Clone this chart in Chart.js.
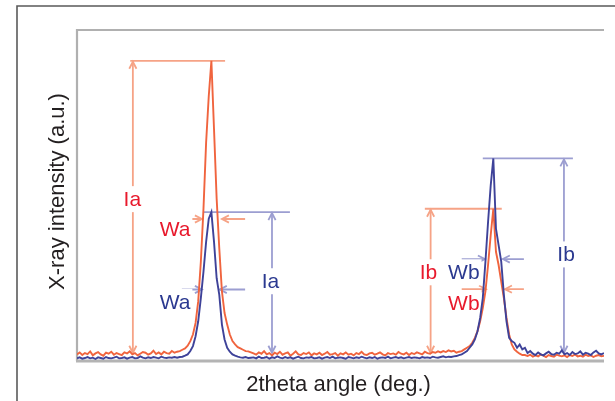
<!DOCTYPE html>
<html>
<head>
<meta charset="utf-8">
<script src="https://cdn.jsdelivr.net/npm/chart.js@4.4.1/dist/chart.umd.min.js"></script>
<style>
html,body{margin:0;padding:0;background:#fff;overflow:hidden}
#wrap{position:relative;width:615px;height:401px}
</style>
</head>
<body>
<div id="wrap"><canvas id="c" width="615" height="401"></canvas></div>
<script>
// ---- data (2theta sampled every thetaStep, arbitrary units) ----
const thetaStart = 0;
const thetaStep = 0.5;

const redIntensity = [
  2.0,2.6,1.8,2.4,2.1,2.9,1.7,2.3,2.7,2.0,1.6,2.5,2.2,2.8,1.9,2.4,2.1,1.8,2.6,2.3,2.9,2.0,2.4,1.7,2.2,2.7,2.5,1.9,2.3,3.1,2.1,2.6,2.0,2.8,2.4,2.2,3.0,2.5,
  2.8,3.0,3.4,3.8,4.6,6.0,8.0,11.5,18,30,46,66,80,90.7,70,49,34,21,14.5,11,8,6,5,4.2,3.8,3.4,3.0,2.9,2.6,
  2.3,1.9,2.6,2.2,3.0,2.0,2.4,1.7,2.5,2.1,2.8,1.9,2.3,2.6,1.6,2.2,2.9,2.0,1.8,2.4,2.1,2.6,1.7,2.3,2.0,2.5,1.8,2.2,2.7,1.9,
  2.1,2.4,1.6,2.3,2.0,2.6,1.9,2.2,1.7,2.4,2.1,2.8,2.0,1.8,2.3,2.5,1.9,2.2,2.6,2.0,1.7,2.4,2.1,2.3,1.9,2.7,2.2,2.0,2.5,1.8,
  2.4,2.1,2.6,2.3,2.0,2.8,2.4,2.2,2.7,2.5,2.9,2.6,3.0,2.7,3.2,2.9,3.1,
  2.5,2.8,3.0,3.5,4.0,4.5,5.5,7,9,12,16,21,29,38,46,33,29,24,19,13,8,5,3.5,2.8,2.2,1.8,1.8,
  1.5,1.9,1.3,1.7,1.4,2.0,1.6,1.2,1.8,1.5,1.3,1.9,1.6,1.4,1.7,1.2,1.8,1.5,2.0,1.4,1.6,1.3,1.9,1.5,1.7,1.2,1.6,1.8,1.4,1.6
];

const blueIntensity = [
  0.8,1.1,0.7,0.9,1.2,0.8,1.0,0.6,1.1,0.9,0.7,1.2,0.9,0.8,1.0,1.3,0.8,0.9,1.1,0.7,1.0,1.2,0.8,0.9,1.4,1.0,0.8,1.1,0.9,1.2,1.0,0.8,1.3,1.0,0.9,1.1,1.0,1.2,
  1.0,1.2,1.3,1.6,2.0,3.0,4.5,7.5,12,19,27,36,43,45,36,25,20,11,6.5,4,2.8,2.0,1.6,1.3,1.1,1.0,1.2,0.9,1.0,
  1.1,0.8,1.3,0.9,1.0,1.2,0.7,1.1,0.9,1.4,1.0,0.8,1.2,0.9,1.1,0.7,1.0,1.3,0.9,0.8,1.1,1.0,1.2,0.8,0.9,1.1,0.7,1.0,1.2,0.9,
  1.3,0.8,1.0,1.1,0.9,0.7,1.2,1.0,0.8,1.1,0.9,1.3,1.0,0.8,1.1,0.9,1.2,0.7,1.0,1.1,0.9,1.3,0.8,1.0,1.2,0.9,1.1,0.8,1.0,1.2,
  0.9,1.1,1.0,0.8,1.2,1.0,1.1,0.9,1.3,1.1,1.0,1.2,1.4,1.1,1.3,1.2,1.4,
  1.5,1.8,2.0,2.5,3.0,4.0,5.0,6.5,9,13,19,30,42,53,61.2,40,35,30,20,12,7,6,5.5,4.0,5.0,3.5,4.0,
  2.4,3.0,2.2,1.8,2.6,2.0,1.7,2.3,2.8,2.1,1.9,2.5,2.2,3.2,2.0,2.4,1.8,2.7,2.1,2.3,2.9,1.9,2.5,2.2,1.8,2.6,3.1,2.3,2.0,2.4
];

// ---- annotations (data units) ----
// peak height markers "I": series, arrow x, horizontal line extent, window to find the peak
const heightSeries   = ['red', 'blue', 'red', 'blue'];
const heightArrowX   = [10.6, 37.0, 67.1, 92.4];
const heightLineFrom = [10.1, 23.9, 66.0, 77.0];
const heightLineTo   = [28.1, 40.4, 80.6, 94.1];
const heightWinFrom  = [19, 19, 72, 72];
const heightWinTo    = [33, 33, 85, 85];
const heightBase     = 2.5;

// peak width markers "W"
const widthSeries = ['red', 'blue', 'blue', 'red'];
const widthLevel  = [42.9, 21.6, 30.8, 21.7];
const widthOuterL = [18.9, 19.9, 73.0, 73.0];
const widthInnerL = [23.7, 23.7, 77.4, 77.6];
const widthInnerR = [27.5, 27.1, 80.8, 81.2];
const widthOuterR = [31.9, 31.9, 84.8, 84.8];

// labels
const labelText   = ['Ia', 'Wa', 'Wa', 'Ia', 'Ib', 'Wb', 'Wb', 'Ib'];
const labelSeries = ['red', 'red', 'blue', 'blue', 'red', 'blue', 'red', 'blue'];
const labelX      = [10.5, 18.6, 18.6, 36.7, 66.7, 73.4, 73.4, 92.8];
const labelY      = [48.9, 39.7, 17.9, 24.1, 26.8, 26.8, 17.4, 32.2];

const xTitle = '2theta angle (deg.)';
const yTitle = 'X-ray intensity (a.u.)';

// ---- styles ----
const LINE = { red: '#f0643e', blue: '#3e4299' };
const MARK = { red: '#f6a386', blue: '#9c9ed1' };
const TEXT = { red: '#e8192c', blue: '#2b3990' };
const FONT = "'Liberation Sans', Arial, Helvetica, sans-serif";

const thetas = redIntensity.map((_, i) => thetaStart + i * thetaStep);
const seriesData = { red: redIntensity, blue: blueIntensity };

function peakMax(series, from, to) {
  let m = -Infinity;
  thetas.forEach((t, i) => { if (t >= from && t <= to) m = Math.max(m, seriesData[series][i]); });
  return m;
}

function arrowHead(ctx, tx, ty, dx, dy) {
  const len = 7, half = 3.6;
  ctx.beginPath();
  ctx.moveTo(tx - dx * len - dy * half, ty - dy * len + dx * half);
  ctx.lineTo(tx, ty);
  ctx.lineTo(tx - dx * len + dy * half, ty - dy * len - dx * half);
  ctx.stroke();
}

const decor = {
  id: 'decor',
  beforeDraw(chart) {
    const { ctx, chartArea: a } = chart;
    ctx.save();
    // outer figure frame
    ctx.strokeStyle = '#5a5a5a';
    ctx.lineWidth = 1.6;
    ctx.beginPath();
    ctx.moveTo(17, 401);
    ctx.lineTo(17, 6);
    ctx.lineTo(615, 6);
    ctx.stroke();
    // plot frame
    ctx.strokeStyle = '#b0b0b0';
    ctx.lineWidth = 2.2;
    ctx.beginPath();
    ctx.moveTo(a.right, a.top);
    ctx.lineTo(a.left, a.top);
    ctx.lineTo(a.left, a.bottom);
    ctx.stroke();
    ctx.lineWidth = 3;
    ctx.strokeStyle = '#b4b4b4';
    ctx.beginPath();
    ctx.moveTo(a.left - 1, a.bottom);
    ctx.lineTo(a.right, a.bottom);
    ctx.stroke();
    // axis titles
    ctx.fillStyle = '#231f20';
    ctx.font = '22px ' + FONT;
    ctx.textAlign = 'center';
    ctx.textBaseline = 'middle';
    ctx.fillText(xTitle, (a.left + a.right) / 2 - 2, a.bottom + 24);
    ctx.translate(58, (a.top + a.bottom) / 2 - 4);
    ctx.rotate(-Math.PI / 2);
    ctx.fillText(yTitle, 0, 0);
    ctx.restore();
  },
  beforeDatasetsDraw(chart) {
    const { ctx, scales: { x, y } } = chart;
    ctx.save();
    ctx.lineWidth = 1.8;
    ctx.lineCap = 'butt';
    // height markers
    heightSeries.forEach((s, i) => {
      const lvl = peakMax(s, heightWinFrom[i], heightWinTo[i]);
      const py = y.getPixelForValue(lvl);
      const pb = y.getPixelForValue(heightBase);
      const ax = x.getPixelForValue(heightArrowX[i]);
      ctx.strokeStyle = MARK[s];
      ctx.beginPath();
      ctx.moveTo(x.getPixelForValue(heightLineFrom[i]), py);
      ctx.lineTo(x.getPixelForValue(heightLineTo[i]), py);
      ctx.moveTo(ax, py);
      ctx.lineTo(ax, pb);
      ctx.stroke();
      arrowHead(ctx, ax, py + 1, 0, -1);
      arrowHead(ctx, ax, pb, 0, 1);
    });
    // width markers
    widthSeries.forEach((s, i) => {
      const py = y.getPixelForValue(widthLevel[i]);
      const ol = x.getPixelForValue(widthOuterL[i]);
      const il = x.getPixelForValue(widthInnerL[i]);
      const ir = x.getPixelForValue(widthInnerR[i]);
      const or = x.getPixelForValue(widthOuterR[i]);
      ctx.strokeStyle = MARK[s];
      ctx.beginPath();
      ctx.moveTo(ol, py); ctx.lineTo(il, py);
      ctx.moveTo(or, py); ctx.lineTo(ir, py);
      ctx.stroke();
      arrowHead(ctx, il, py, 1, 0);
      arrowHead(ctx, ir, py, -1, 0);
    });
    // labels
    ctx.font = '21px ' + FONT;
    ctx.textAlign = 'center';
    ctx.textBaseline = 'middle';
    labelText.forEach((t, i) => {
      const px = x.getPixelForValue(labelX[i]);
      const py = y.getPixelForValue(labelY[i]);
      const w = ctx.measureText(t).width;
      ctx.fillStyle = '#ffffff';
      ctx.fillRect(px - w / 2 - 2, py - 13, w + 4, 26);
      ctx.fillStyle = TEXT[labelSeries[i]];
      ctx.fillText(t, px, py + 1);
    });
    ctx.restore();
  }
};

new Chart(document.getElementById('c'), {
  type: 'line',
  data: {
    datasets: [
      {
        label: 'Sample (blue)',
        data: thetas.map((t, i) => ({ x: t, y: blueIntensity[i] })),
        borderColor: LINE.blue,
        borderWidth: 1.9,
        pointRadius: 0,
        tension: 0,
        fill: false
      },
      {
        label: 'Sample (red)',
        data: thetas.map((t, i) => ({ x: t, y: redIntensity[i] })),
        borderColor: LINE.red,
        borderWidth: 1.9,
        pointRadius: 0,
        tension: 0,
        fill: false
      }
    ]
  },
  options: {
    responsive: false,
    animation: false,
    devicePixelRatio: 1,
    layout: { padding: { left: 77, top: 30, right: 11, bottom: 40 } },
    plugins: { legend: { display: false }, tooltip: { enabled: false } },
    scales: {
      x: { type: 'linear', display: false, min: 0, max: 100 },
      y: { display: false, min: 0, max: 100 }
    }
  },
  plugins: [decor]
});
</script>
</body>
</html>
